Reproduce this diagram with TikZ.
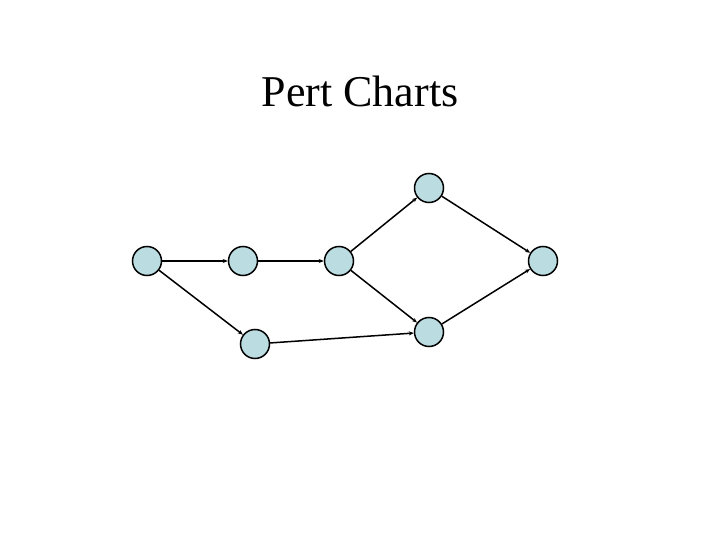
\documentclass[tikz,border=0pt]{standalone}
\usepackage{fontspec}
\setmainfont{Liberation Serif}
\usetikzlibrary{arrows.meta}
\definecolor{nodefill}{RGB}{187,221,226}
\begin{document}
\begin{tikzpicture}[x=1pt,y=-1pt,
  ev/.style={circle,draw=black,line width=1.5pt,fill=nodefill,minimum size=29pt,inner sep=0pt},
  conn/.style={line width=1.5pt,-{Stealth[length=5pt,width=4pt]}}]
\useasboundingbox (0,0) rectangle (720,540);
\node[font=\fontsize{44}{52}\selectfont,anchor=base] (title) at (360,107) {Pert Charts};
\node[ev] (a) at (147,261) {};
\node[ev] (b) at (243,261) {};
\node[ev] (c) at (339,261) {};
\node[ev] (d) at (429,188) {};
\node[ev] (e) at (543,261) {};
\node[ev] (f) at (255,344) {};
\node[ev] (g) at (429,332) {};
\draw[conn] (a) -- (b);
\draw[conn] (b) -- (c);
\draw[conn] (a) -- (f);
\draw[conn] (f) -- (g);
\draw[conn] (c) -- (d);
\draw[conn] (c) -- (g);
\draw[conn] (d) -- (e);
\draw[conn] (g) -- (e);
\end{tikzpicture}
\end{document}
